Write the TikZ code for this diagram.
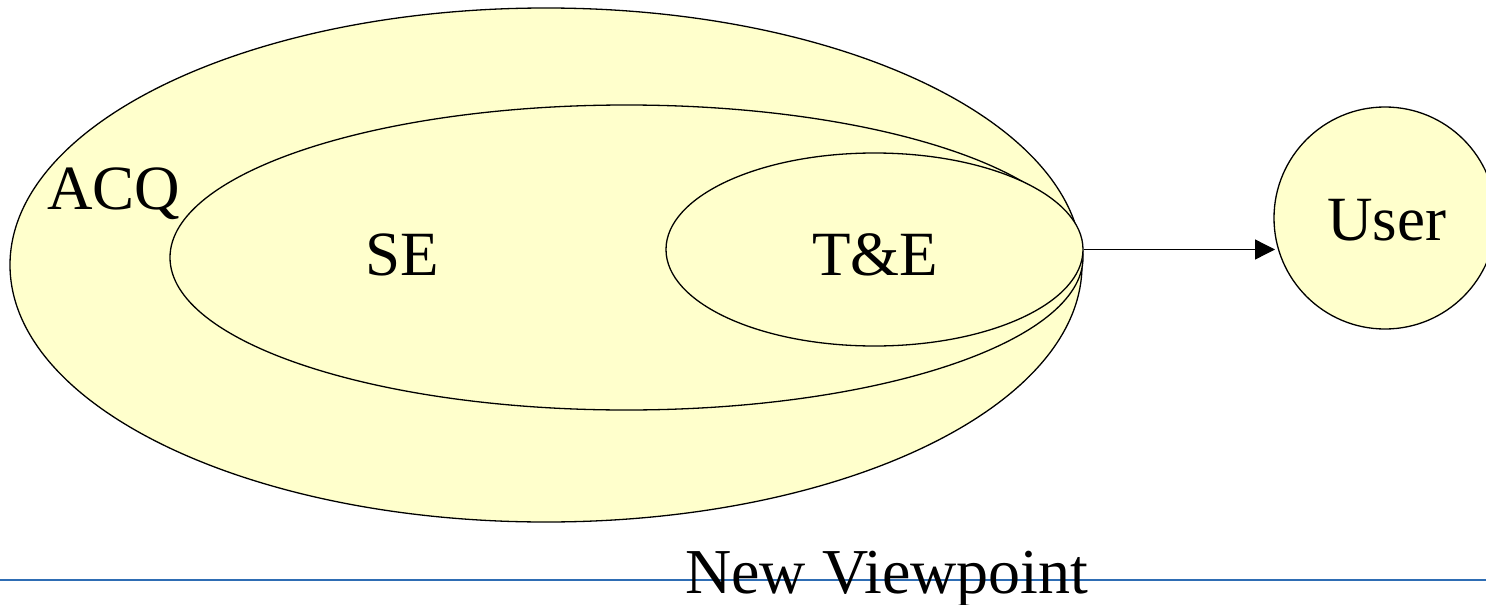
\documentclass[tikz,border=0pt]{standalone}
\usepackage{fontspec}
\setmainfont{Liberation Serif}
\usetikzlibrary{shapes.geometric,arrows.meta}
\definecolor{paleyellow}{RGB}{255,255,204}
\definecolor{rulblue}{RGB}{46,109,180}
\begin{document}
\begin{tikzpicture}[x=1pt,y=-1pt,
  blob/.style={ellipse,draw=black,line width=1.3pt,fill=paleyellow,inner sep=0pt},
  lbl/.style={font=\fontsize{63}{70}\selectfont,inner sep=0pt,anchor=base west}]
\useasboundingbox (0,0) rectangle (1486,605);
\node[blob,minimum width=1072pt,minimum height=514pt] (acq) at (546,265) {};
\node[blob,minimum width=913pt,minimum height=305pt] (se) at (626.5,257.5) {};
\node[blob,minimum width=417pt,minimum height=193pt] (te) at (874.5,249.5) {};
\node[circle,draw=black,line width=1.3pt,fill=paleyellow,inner sep=0pt,minimum size=222pt] (user) at (1385,218) {};
\node[lbl] (acqt) at (47,209) {ACQ};
\node[lbl] (set) at (365,275) {SE};
\node[lbl] (tet) at (812,275) {T\&E};
\node[lbl] (usert) at (1327,240) {User};
\coordinate (tip) at (1275,249.5);
\draw[line width=1.3pt,-{Triangle[length=20pt,width=20pt]}] (te.east) -- (tip);
\coordinate (l0) at (0,580);
\coordinate (l1) at (1486,580);
\draw[rulblue,line width=2pt] (l0) -- (l1);
\node[lbl,font=\fontsize{64}{70}\selectfont] (nv) at (685,593) {New Viewpoint};
\end{tikzpicture}
\end{document}
